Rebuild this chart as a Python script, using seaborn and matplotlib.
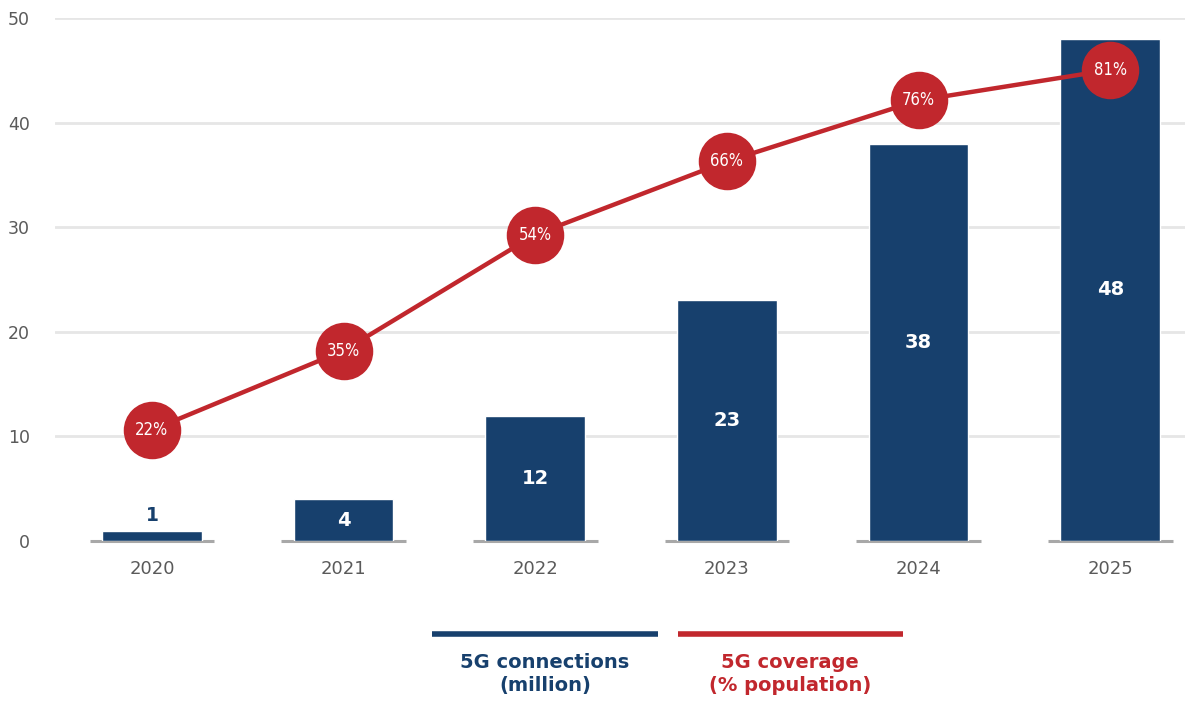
import matplotlib
matplotlib.use("Agg")
import matplotlib.pyplot as plt
from matplotlib.lines import Line2D
import seaborn as sns
import pandas as pd
import numpy as np

years = ["2020", "2021", "2022", "2023", "2024", "2025"]
connections = [1, 4, 12, 23, 38, 48]          # 5G connections (million)
coverage = [22, 35, 54, 66, 76, 81]           # 5G coverage (% population)
y_ticks = [0, 10, 20, 30, 40, 50]

NAVY = "#17406D"
RED = "#C1272D"
GRID = "#E6E6E6"
TICK = "#5A5A5A"

sns.set_theme(style="white")
plt.rcParams["font.family"] = ["DejaVu Sans"]

fig = plt.figure(figsize=(11.85, 7.03), dpi=100)
ax = fig.add_axes([0.0464, 0.2304, 0.9536, 0.744])

df = pd.DataFrame({"year": years, "connections": connections, "coverage": coverage})

sns.barplot(data=df, x="year", y="connections", color=NAVY, saturation=1,
            width=0.52, ax=ax, zorder=3)

ax.set_ylim(0, 50)
ax.set_yticks(y_ticks)
ax.set_yticklabels([str(t) for t in y_ticks], fontsize=12.5, color=TICK)
ax.tick_params(axis="y", length=0, pad=18)
ax.tick_params(axis="x", length=0, pad=14, labelsize=13, labelcolor=TICK)
ax.set_xlabel("")
ax.set_ylabel("")
for s in ax.spines.values():
    s.set_visible(False)

# horizontal gridlines (none at zero)
for t in y_ticks[1:]:
    ax.axhline(t, color=GRID, lw=2, zorder=0)

# short baseline under each bar
pos = np.arange(len(years))
ax.hlines([0] * len(pos), pos - 0.325, pos + 0.325, color="#A8A8A8", lw=2.2,
          zorder=2, clip_on=False)

# bar value labels
for i, v in enumerate(connections):
    if v < 3:
        ax.annotate(str(v), (i, v), xytext=(0, 4), textcoords="offset points",
                    ha="center", va="bottom", color=NAVY, fontsize=13.5,
                    fontweight="bold", zorder=5)
    else:
        ax.text(i, v / 2, str(v), ha="center", va="center", color="white",
                fontsize=14, fontweight="bold", zorder=5)

# coverage line on its own scale
ax2 = ax.twinx()
sns.pointplot(data=df, x="year", y="coverage", color=RED, ax=ax2,
              markers="o", markersize=39, linewidth=3.2, zorder=4)
ax2.set_ylim(3.8, 89.5)
ax2.set_yticks([])
ax2.set_ylabel("")
ax2.set_xlabel("")
for s in ax2.spines.values():
    s.set_visible(False)
for i, c in enumerate(coverage):
    ax2.text(i, c, f"{c}%", ha="center", va="center", color="white",
             fontsize=12, fontstretch="condensed", zorder=6,
             family=["Liberation Sans Narrow", "DejaVu Sans"])

# shared x range, set after both plots
ax.set_xlim(-0.506, 5.39)

# legend drawn below the plot
fig.add_artist(Line2D([432 / 1185, 658 / 1185], [1 - 634 / 703] * 2,
                      color=NAVY, lw=4, solid_capstyle="butt"))
fig.add_artist(Line2D([678 / 1185, 903 / 1185], [1 - 634 / 703] * 2,
                      color=RED, lw=4, solid_capstyle="butt"))
fig.text(545 / 1185, 1 - 674 / 703, "5G connections\n(million)", ha="center",
         va="center", color=NAVY, fontsize=14, fontweight="bold",
         linespacing=1.25)
fig.text(790 / 1185, 1 - 674 / 703, "5G coverage\n(% population)", ha="center",
         va="center", color=RED, fontsize=14, fontweight="bold",
         linespacing=1.25)

fig.savefig("out.png", dpi=100)
